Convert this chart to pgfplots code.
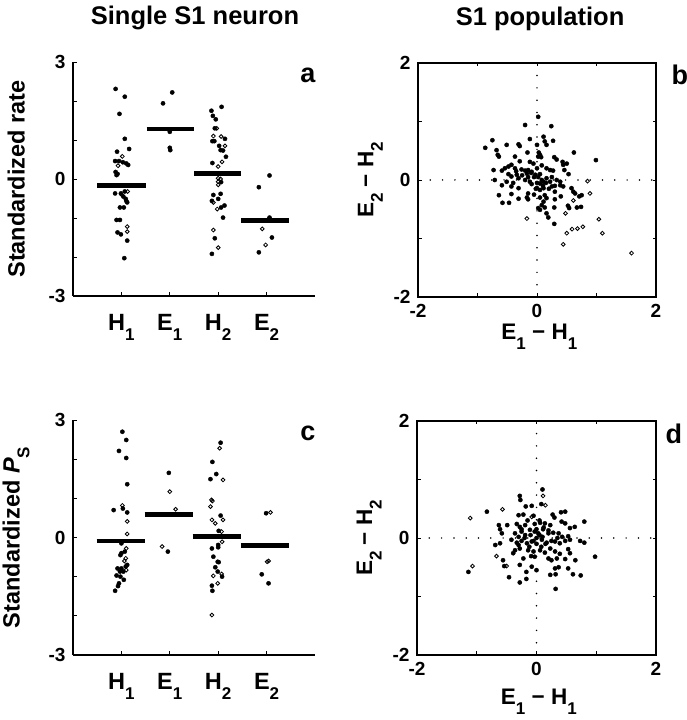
\documentclass[border=0pt]{standalone}
\usepackage{pgfplots}
\pgfplotsset{compat=1.18}
\usepackage{pgfplotstable}
\usepackage{fontspec}
\setmainfont{Liberation Sans}

% subscript as in the original figure: big and low
\newcommand\sub[1]{\raisebox{-0.42em}{\fontsize{17bp}{17bp}\selectfont #1}}
\newcommand\fnt[1]{\bfseries\fontsize{#1}{#1}\selectfont}

% ---- panel a: standardized rate, x = jittered category, t = f(illed)/o(pen)
\pgfplotstableread{
x y t
0.88 2.31 f
1.07 2.11 f
0.96 1.67 f
1.07 1.03 f
1.16 0.77 f
0.91 0.70 f
1.02 0.58 o
0.87 0.46 f
0.95 0.46 f
1.03 0.43 f
1.10 0.40 f
1.14 0.36 f
0.93 0.34 o
0.88 0.18 f
0.92 0.13 f
0.90 0.10 f
0.87 -0.37 f
0.99 -0.37 f
1.07 -0.32 f
1.13 -0.32 o
1.00 -0.40 o
1.04 -0.45 f
1.09 -0.51 f
1.10 -0.56 f
1.12 -0.60 f
0.97 -0.73 f
1.05 -0.73 f
0.90 -1.05 f
0.97 -1.05 f
1.12 -1.22 o
1.12 -1.35 o
0.92 -1.37 f
0.99 -1.42 f
1.12 -1.58 f
1.06 -2.03 f
2.05 2.22 f
1.86 1.94 f
2.00 1.21 f
2.00 0.80 f
2.01 0.74 f
3.07 1.85 f
2.86 1.75 f
2.89 1.62 f
2.95 1.53 f
2.93 1.30 f
2.97 1.30 o
2.90 1.10 o
3.06 1.09 o
3.14 1.03 f
2.88 0.97 f
2.92 0.97 f
3.02 0.85 f
3.14 0.85 o
3.05 0.74 f
3.10 0.73 f
3.16 0.57 f
3.08 0.44 o
2.88 0.41 f
3.00 0.32 o
3.00 0.02 o
3.05 0.00 o
3.00 -0.07 o
3.06 -0.08 f
3.00 -0.15 o
2.90 -0.41 f
3.05 -0.38 f
3.00 -0.51 f
2.90 -0.60 o
2.87 -0.56 f
2.98 -0.77 o
3.06 -0.73 f
3.13 -0.68 f
3.10 -0.99 f
2.90 -1.31 o
2.93 -1.52 f
3.00 -1.76 o
2.87 -1.92 f
4.06 0.09 f
3.84 -0.21 f
4.06 -0.99 f
3.91 -1.28 o
4.11 -1.50 f
3.98 -1.69 o
3.84 -1.88 f
}\rateA

% ---- panel c: standardized Ps
\pgfplotstableread{
x y t
1.02 2.70 f
1.10 2.49 f
0.95 2.21 f
1.10 2.03 f
1.12 1.36 f
1.02 0.82 o
1.03 0.74 f
0.84 0.70 f
1.12 0.64 f
1.12 0.41 o
1.12 0.09 o
1.00 -0.15 f
1.10 -0.28 o
1.07 -0.36 f
1.00 -0.40 f
0.98 -0.45 f
1.09 -0.53 o
1.06 -0.60 o
1.12 -0.70 f
1.09 -0.74 f
1.00 -0.79 f
0.92 -0.79 f
1.10 -0.83 o
1.04 -0.87 f
0.97 -0.87 f
0.90 -0.97 f
0.98 -1.00 f
1.05 -1.08 f
0.95 -1.17 f
0.93 -1.24 f
0.87 -1.36 f
1.98 1.65 f
2.00 1.17 o
2.12 0.72 o
1.84 -0.23 o
1.96 -0.36 f
3.05 2.42 f
3.03 2.28 o
2.88 1.93 f
2.96 1.62 f
2.84 1.49 f
3.10 1.47 o
2.86 0.96 o
2.88 0.93 o
2.84 0.79 o
3.05 0.56 f
3.10 0.45 o
2.87 0.45 o
2.94 0.36 o
3.01 0.17 f
3.07 0.15 o
3.08 -0.11 o
3.00 -0.19 f
2.87 -0.28 f
3.00 -0.25 f
2.90 -0.49 f
2.99 -0.62 f
3.01 -0.63 f
2.94 -0.76 f
2.99 -0.87 f
3.07 -0.93 o
3.08 -1.00 f
2.90 -0.98 o
2.99 -1.17 o
2.87 -1.23 f
2.88 -1.36 f
2.87 -1.98 o
3.99 0.62 f
4.08 0.64 o
4.01 -0.62 o
4.04 -0.60 o
3.90 -0.94 f
4.04 -1.17 f
}\psC

% ---- panel b: population, rate differences
\pgfplotstableread{
x y t
0.02 1.08 f
-0.20 0.94 f
0.24 0.92 f
0.11 0.74 f
0.13 0.66 f
0.16 0.60 f
0.27 0.67 f
-0.12 0.70 f
-0.75 0.68 f
-0.87 0.55 f
-0.51 0.60 f
-0.31 0.61 f
-0.29 0.58 f
0.00 0.60 f
-0.68 0.51 f
-0.66 0.43 f
-0.64 0.40 f
-0.16 0.47 f
0.03 0.47 f
0.05 0.43 f
0.02 0.40 f
0.07 0.39 f
0.62 0.47 f
-0.37 0.40 f
0.29 0.39 f
0.33 0.35 f
0.99 0.34 f
0.43 0.31 f
0.50 0.28 f
-0.29 0.32 f
-0.43 0.26 f
-0.48 0.23 f
-0.54 0.20 f
-0.37 0.20 f
-0.12 0.31 f
-0.06 0.28 f
-0.73 0.17 f
-0.59 0.16 f
-0.26 0.18 f
-0.20 0.16 f
-0.15 0.17 f
-0.09 0.14 f
-0.17 0.11 f
0.16 0.20 f
0.22 0.17 f
0.27 0.16 f
0.44 0.26 f
0.46 0.17 f
0.53 0.10 f
-0.48 0.10 f
-0.43 0.06 f
-0.34 0.09 f
-0.31 0.03 f
-0.03 0.09 f
0.02 0.05 f
0.08 0.00 f
0.11 -0.03 f
0.05 -0.06 f
0.16 0.03 f
0.22 -0.03 f
-0.71 0.00 f
-0.51 -0.03 f
-0.20 0.00 f
-0.12 -0.03 f
-0.09 -0.07 f
0.33 0.00 f
0.39 -0.03 f
0.39 -0.09 f
0.44 -0.11 f
0.85 -0.02 o
-0.59 -0.09 f
-0.43 -0.11 f
-0.31 -0.14 f
0.00 -0.14 f
0.05 -0.17 f
0.11 -0.14 f
0.25 -0.11 f
0.30 -0.20 f
0.58 -0.14 f
0.61 -0.20 f
0.64 -0.23 f
0.75 -0.26 f
0.71 -0.28 f
0.89 -0.23 o
-0.64 -0.26 f
-0.43 -0.24 f
-0.15 -0.23 f
-0.15 -0.33 f
-0.17 -0.30 f
0.13 -0.26 f
0.16 -0.31 f
0.11 -0.37 f
0.08 -0.43 f
0.13 -0.47 f
-0.31 -0.32 f
0.30 -0.33 f
0.40 -0.28 f
0.61 -0.35 o
-0.58 -0.39 f
-0.47 -0.39 f
0.02 -0.48 f
0.05 -0.51 f
0.29 -0.47 f
0.52 -0.44 f
0.54 -0.48 f
0.67 -0.47 f
0.74 -0.46 f
0.48 -0.57 o
0.16 -0.57 f
0.19 -0.64 f
-0.17 -0.66 o
0.29 -0.75 f
1.04 -0.67 o
0.50 -0.91 o
0.59 -0.84 o
0.68 -0.83 o
0.77 -0.80 o
1.10 -0.91 o
0.44 -1.10 o
1.59 -1.25 o
-0.05 0.05 f
0.00 -0.05 f
0.05 0.10 f
-0.10 0.12 f
0.10 -0.10 f
0.00 0.20 f
-0.02 -0.15 f
0.15 -0.05 f
-0.15 0.05 f
0.08 0.25 f
-0.25 0.08 f
0.20 -0.15 f
-0.05 -0.25 f
0.05 -0.30 f
0.25 0.05 f
-0.35 0.15 f
-0.40 -0.05 f
0.30 -0.10 f
}\popB

% ---- panel d: population, Ps differences
\pgfplotstableread{
x y t
0.10 0.83 f
0.11 0.72 o
-0.28 0.72 f
-0.27 0.65 f
-0.18 0.54 f
-0.08 0.55 f
0.08 0.58 f
0.15 0.56 o
-0.57 0.49 o
-0.83 0.45 f
-1.11 0.34 o
-0.30 0.39 f
-0.22 0.40 f
-0.05 0.38 f
-0.08 0.36 o
0.27 0.40 f
0.30 0.35 f
0.41 0.44 f
0.48 0.45 f
-0.63 0.22 f
-0.61 0.15 f
-0.49 0.22 f
-0.33 0.24 f
-0.28 0.19 f
-0.19 0.22 f
-0.03 0.24 f
0.06 0.26 f
0.14 0.25 f
0.23 0.22 f
0.42 0.28 f
0.48 0.25 f
0.80 0.28 f
0.56 0.17 f
0.64 0.19 f
-0.58 0.08 f
-0.36 0.08 f
-0.25 0.11 f
-0.19 0.05 f
-0.30 0.02 f
-0.11 0.14 f
-0.03 0.11 f
0.03 0.08 f
0.11 0.15 f
0.20 0.13 f
0.28 0.09 f
0.37 0.08 f
0.43 0.02 f
0.53 0.03 f
-0.69 -0.12 f
-0.61 -0.09 f
-0.42 -0.03 f
-0.33 -0.08 f
-0.25 -0.05 f
-0.16 -0.09 f
-0.08 -0.06 f
0.00 -0.10 f
0.09 -0.03 f
0.17 -0.08 f
0.31 -0.06 f
0.39 -0.09 f
0.48 -0.05 f
0.56 -0.03 f
0.73 -0.05 f
0.80 -0.08 f
-0.36 -0.21 f
-0.28 -0.18 f
-0.39 -0.26 f
-0.14 -0.21 f
-0.05 -0.23 f
0.06 -0.21 f
0.14 -0.25 f
0.23 -0.18 f
0.31 -0.23 f
0.39 -0.27 f
0.53 -0.19 f
0.56 -0.26 f
0.98 -0.32 f
-0.67 -0.31 o
-0.56 -0.38 f
-0.22 -0.35 f
-0.09 -0.31 f
-0.03 -0.32 f
0.20 -0.35 f
0.25 -0.38 f
0.34 -0.35 f
0.48 -0.36 f
0.65 -0.38 f
-0.54 -0.48 f
-0.50 -0.48 o
-1.07 -0.48 o
-1.14 -0.58 f
-0.28 -0.46 f
-0.08 -0.49 f
0.31 -0.52 f
0.37 -0.50 f
0.53 -0.52 f
-0.17 -0.58 f
0.00 -0.55 f
0.23 -0.63 f
0.32 -0.62 f
0.61 -0.62 f
0.74 -0.64 f
-0.46 -0.67 f
-0.17 -0.70 f
-0.28 -0.76 f
0.32 -0.87 f
-0.10 0.05 f
0.00 0.00 f
0.05 0.05 f
-0.05 -0.05 f
0.10 0.02 f
-0.20 0.00 f
0.15 -0.10 f
0.00 0.15 f
-0.12 -0.15 f
0.08 -0.15 f
0.20 0.08 f
-0.25 0.15 f
0.12 0.18 f
-0.30 -0.12 f
0.05 0.30 f
-0.15 0.30 f
0.25 -0.05 f
0.35 0.00 f
}\popD

\pgfplotsset{
  dots/.style={only marks, scatter, point meta=explicit symbolic,
    scatter/classes={
      f={mark=*, mark size=2.1bp, black},
      o={mark=o, mark size=1.9bp, black, line width=0.85bp}}},
  meanbar/.style={black, line width=4.8bp, line cap=butt},
  zeroline/.style={black, line width=1.7bp, line cap=round, dash pattern=on 0pt off 12.3bp},
  common/.style={scale only axis, clip=false, anchor=south west,
    axis line style={line width=1.3bp, black},
    tick style={line width=0.9bp, black},
    major tick length=3.5bp,
    ticklabel style={font=\fnt{19bp}},
    xticklabel style={yshift=-4bp},
    yticklabel style={xshift=-4bp}},
  strip/.style={common, width=242bp, height=234bp,
    xmin=0, xmax=5, ymin=-3, ymax=3,
    axis x line*=bottom, axis y line*=left,
    xtick={1,2,3,4},
    xticklabels={H\sub{1},E\sub{1},H\sub{2},E\sub{2}},
    xticklabel style={font=\fnt{23.5bp}, yshift=-11bp},
    ytick={-3,...,3}, yticklabels={-3,,,0,,,3},
    ylabel style={font=\fnt{23.5bp}, at={(axis description cs:-0.235,0.5)}, anchor=center}},
  scat/.style={common, width=238bp, height=234bp,
    xmin=-2, xmax=2, ymin=-2, ymax=2,
    xtick={-2,...,2}, xticklabels={-2,,0,,2},
    ytick={-2,...,2}, yticklabels={-2,,0,,2},
    xlabel={E\sub{1} − H\sub{1}}, ylabel={E\sub{2} − H\sub{2}},
    xlabel style={font=\fnt{22.5bp}, anchor=center},
    ylabel style={font=\fnt{22.5bp}, at={(axis description cs:-0.2,0.5)}, anchor=center}},
}

\begin{document}
\begin{tikzpicture}
\path[use as bounding box] (0,0) rectangle (687bp,720bp);

% a
\begin{axis}[strip, at={(73bp,424bp)}, ylabel={Standardized rate}]
  \addplot[dots] table[x=x, y=y, meta=t] \rateA;
  \addplot[meanbar] coordinates {(0.5,-0.17) (1.5,-0.17)};
  \addplot[meanbar] coordinates {(1.52,1.28) (2.5,1.28)};
  \addplot[meanbar] coordinates {(2.5,0.15) (3.48,0.15)};
  \addplot[meanbar] coordinates {(3.48,-1.07) (4.47,-1.07)};
  \node[font=\fnt{27bp}] at (axis description cs:0.971,0.944) {a};
  \node[font=\fnt{25.5bp}] at (axis description cs:0.504,1.188) {Single S1 neuron};
\end{axis}

% b
\begin{axis}[scat, at={(418bp,423bp)},
    xlabel style={at={(axis description cs:0.51,-0.17)}}]
  \addplot[zeroline] coordinates {(0,-2) (0,2)};
  \addplot[zeroline] coordinates {(-2,0) (2,0)};
  \addplot[dots] table[x=x, y=y, meta=t] \popB;
  \node[font=\fnt{27bp}] at (axis description cs:1.10,0.949) {b};
  \node[font=\fnt{25.5bp}] at (axis description cs:0.513,1.19) {S1 population};
\end{axis}

% c
\begin{axis}[strip, at={(73bp,65bp)}, height=235bp,
    ylabel={Standardized \textit{P}\sub{S}}]
  \addplot[dots] table[x=x, y=y, meta=t] \psC;
  \addplot[meanbar] coordinates {(0.49,-0.09) (1.48,-0.09)};
  \addplot[meanbar] coordinates {(1.48,0.59) (2.48,0.59)};
  \addplot[meanbar] coordinates {(2.47,0.02) (3.48,0.02)};
  \addplot[meanbar] coordinates {(3.47,-0.21) (4.47,-0.21)};
  \node[font=\fnt{27bp}] at (axis description cs:0.971,0.945) {c};
\end{axis}

% d
\begin{axis}[scat, at={(417bp,65bp)}, width=239bp,
    xlabel style={at={(axis description cs:0.51,-0.2)}}]
  \addplot[zeroline] coordinates {(0,-2) (0,2)};
  \addplot[zeroline] coordinates {(-2,0) (2,0)};
  \addplot[dots] table[x=x, y=y, meta=t] \popD;
  \node[font=\fnt{27bp}] at (axis description cs:1.075,0.944) {d};
\end{axis}
\end{tikzpicture}
\end{document}
